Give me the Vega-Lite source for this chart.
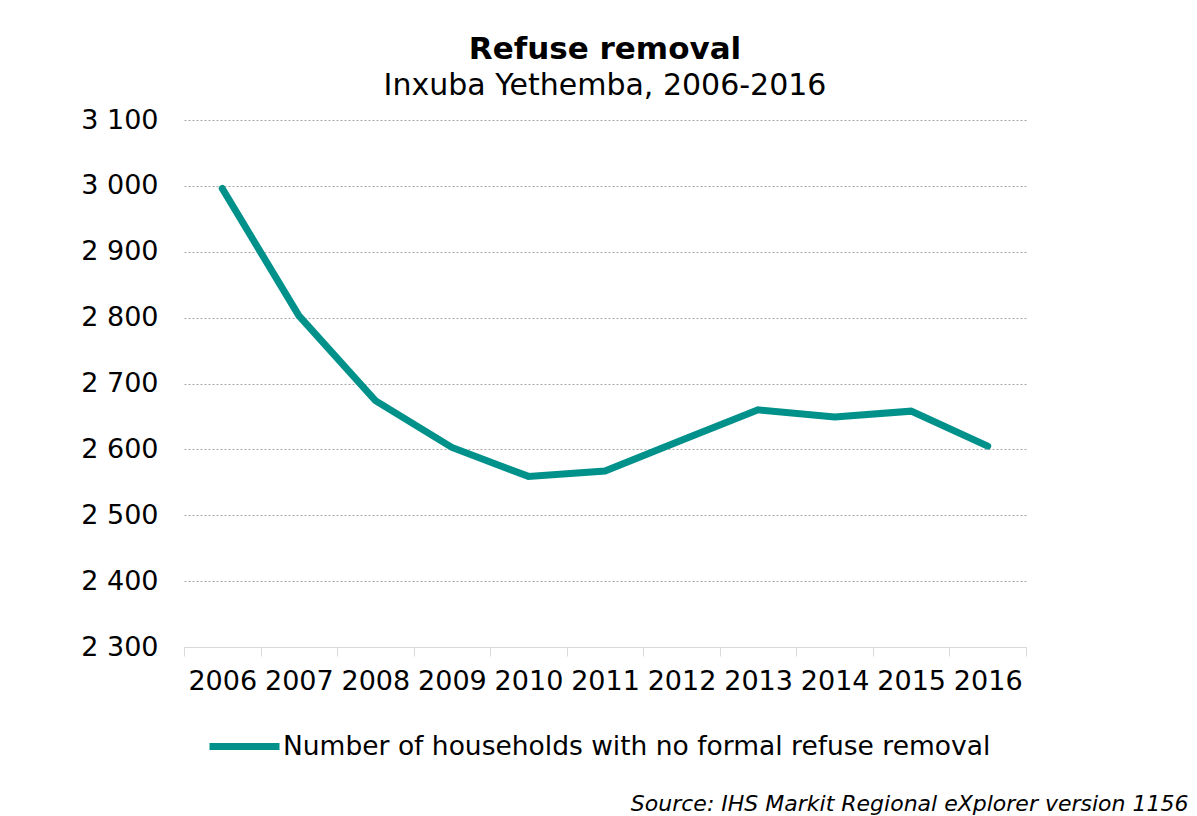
{
  "$schema": "https://vega.github.io/schema/vega-lite/v6.json",
  "background": "white",
  "padding": {"left": 80, "top": 34, "right": 5, "bottom": 0},
  "config": {"view": {"stroke": null}, "font": "DejaVu Sans"},
  "title": {
    "text": "Source: IHS Markit Regional eXplorer version 1156",
    "orient": "bottom",
    "anchor": "end",
    "frame": "bounds",
    "font": "DejaVu Sans",
    "fontSize": 22,
    "fontStyle": "italic",
    "fontWeight": "normal",
    "color": "black",
    "offset": 11,
    "dx": 162
  },
  "resolve": {"scale": {"color": "independent"}, "legend": {"color": "independent"}},
  "vconcat": [
    {
      "width": 842,
      "height": 527,
      "title": {
        "text": "Refuse removal",
        "subtitle": "Inxuba Yethemba, 2006-2016",
        "anchor": "middle",
        "frame": "group",
        "font": "DejaVu Sans",
        "fontSize": 31,
        "fontWeight": "bold",
        "color": "black",
        "subtitleFont": "DejaVu Sans",
        "subtitleFontSize": 30,
        "subtitleColor": "black",
        "subtitlePadding": 5,
        "offset": 4
      },
      "data": {
        "values": [
          {"year": "2006", "households": 2996, "series": "Number of households with no formal refuse removal"},
          {"year": "2007", "households": 2803, "series": "Number of households with no formal refuse removal"},
          {"year": "2008", "households": 2674, "series": "Number of households with no formal refuse removal"},
          {"year": "2009", "households": 2603, "series": "Number of households with no formal refuse removal"},
          {"year": "2010", "households": 2559, "series": "Number of households with no formal refuse removal"},
          {"year": "2011", "households": 2567, "series": "Number of households with no formal refuse removal"},
          {"year": "2012", "households": 2614, "series": "Number of households with no formal refuse removal"},
          {"year": "2013", "households": 2660, "series": "Number of households with no formal refuse removal"},
          {"year": "2014", "households": 2649, "series": "Number of households with no formal refuse removal"},
          {"year": "2015", "households": 2658, "series": "Number of households with no formal refuse removal"},
          {"year": "2016", "households": 2605, "series": "Number of households with no formal refuse removal"}
        ]
      },
      "mark": {"type": "line", "strokeWidth": 7, "strokeCap": "round"},
      "encoding": {
        "x": {
          "field": "year",
          "type": "ordinal",
          "bandPosition": 0.5,
          "scale": {"type": "band", "paddingInner": 0, "paddingOuter": 0},
          "axis": {
            "title": null,
            "labelAngle": 0,
            "labelFont": "DejaVu Sans",
            "labelFontSize": 27,
            "labelColor": "black",
            "labelPadding": 12,
            "tickBand": "extent",
            "tickSize": 9,
            "tickColor": "#d9d9d9",
            "domainColor": "#d9d9d9",
            "grid": false
          }
        },
        "y": {
          "field": "households",
          "type": "quantitative",
          "scale": {"domain": [2300, 3100], "nice": false, "zero": false},
          "axis": {
            "title": null,
            "values": [2300, 2400, 2500, 2600, 2700, 2800, 2900, 3000, 3100],
            "labelExpr": "replace(format(datum.value, ','), ',', ' ')",
            "labelFont": "DejaVu Sans",
            "labelFontSize": 27,
            "labelColor": "black",
            "labelPadding": 26,
            "ticks": false,
            "domain": false,
            "grid": true,
            "gridDash": [2, 2],
            "gridColor": "#a6a6a6",
            "gridWidth": 1
          }
        },
        "color": {
          "field": "series",
          "type": "nominal",
          "scale": {"range": ["#00918A"]},
          "legend": {
            "title": null,
            "orient": "bottom",
            "direction": "horizontal",
            "symbolType": "stroke",
            "symbolStrokeWidth": 7,
            "symbolSize": 4900,
            "labelFont": "DejaVu Sans",
            "labelFontSize": 26.5,
            "labelColor": "black",
            "labelLimit": 1000,
            "labelOffset": 0,
            "padding": 22,
            "offset": -8
          }
        }
      }
    }
  ]
}
